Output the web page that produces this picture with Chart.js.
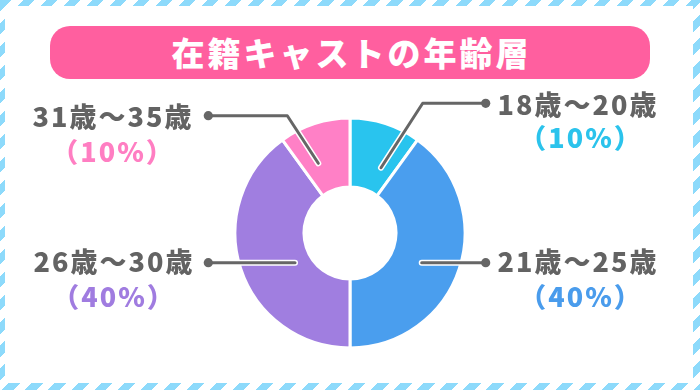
<!DOCTYPE html>
<html><head><meta charset="utf-8">
<script src="https://cdn.jsdelivr.net/npm/chart.js@4/dist/chart.umd.min.js"></script>
<style>
html,body{margin:0;padding:0;}
body{width:700px;height:390px;position:relative;overflow:hidden;background:repeating-linear-gradient(135deg,#8ddafb 0 8px,#ffffff 8px 16.3px);}
#inner{position:absolute;left:5px;top:6px;width:688px;height:377px;background:#fff;}
#title{position:absolute;left:50px;top:26px;width:600px;height:53px;border-radius:20px;background:#ff5f9f;color:#fff;font-family:"Noto Sans CJK JP";font-weight:900;font-size:33px;letter-spacing:3px;padding-left:3px;box-sizing:border-box;text-align:center;line-height:52px;}
#wrap{position:absolute;left:0;top:0;width:700px;height:390px;}
</style></head>
<body>
<div id="inner"></div>
<div id="title">在籍キャストの年齢層</div>
<div id="wrap"><canvas id="c" width="700" height="390"></canvas></div>
<script>
// ---- data ----
const categories = ['18歳～20歳', '21歳～25歳', '26歳～30歳', '31歳～35歳'];
const shares = [10, 40, 40, 10];
const shareLabels = ['（10%）', '（40%）', '（40%）', '（10%）'];
const sliceColors = ['#29c4ee', '#4a9eee', '#a07ee0', '#ff80c6'];
const pctColors = ['#2bc3ec', '#4a9cec', '#a07ce0', '#ff7ec2'];

// ---- layout of leaders / labels (offsets from doughnut centre, label centres) ----
const leaderLayout = [
  {pts: [[31, -65.3], [72.7, -129.7], [135.7, -129.7]], label: [577, 105], pct: [580, 138]},
  {pts: [[71.7, 29.7], [135.7, 29.7]], label: [577, 262], pct: [580, 297]},
  {pts: [[-55, 29.7], [-141.7, 29.7]], label: [113, 262], pct: [113, 297]},
  {pts: [[-31.7, -69.7], [-62.7, -117.3], [-141.7, -117.3]], label: [112, 117], pct: [112, 152]}
];

const leaderPlugin = {
  id: 'leaders',
  afterDatasetsDraw(chart) {
    const ctx = chart.ctx;
    const meta = chart.getDatasetMeta(0);
    meta.data.forEach((arc, i) => {
      const L = leaderLayout[i];
      const pts = L.pts.map(p => [arc.x + p[0], arc.y + p[1]]);
      ctx.save();
      ctx.lineCap = 'round';
      ctx.lineJoin = 'round';
      ctx.beginPath();
      pts.forEach((p, k) => k ? ctx.lineTo(p[0], p[1]) : ctx.moveTo(p[0], p[1]));
      ctx.strokeStyle = '#ffffff';
      ctx.lineWidth = 6;
      ctx.stroke();
      ctx.beginPath();
      pts.forEach((p, k) => k ? ctx.lineTo(p[0], p[1]) : ctx.moveTo(p[0], p[1]));
      ctx.strokeStyle = '#666666';
      ctx.lineWidth = 3;
      ctx.stroke();
      const e = pts[pts.length - 1];
      ctx.beginPath();
      ctx.arc(e[0], e[1], 4.6, 0, Math.PI * 2);
      ctx.fillStyle = '#666666';
      ctx.fill();
      ctx.font = '900 27px "Noto Sans CJK JP"';
      if ('letterSpacing' in ctx) ctx.letterSpacing = '2px';
      ctx.textAlign = 'center';
      ctx.textBaseline = 'middle';
      ctx.fillStyle = '#636363';
      ctx.fillText(categories[i], L.label[0] + 1, L.label[1]);
      ctx.fillStyle = pctColors[i];
      ctx.fillText(shareLabels[i], L.pct[0] + 1, L.pct[1]);
      ctx.restore();
    });
  }
};

new Chart(document.getElementById('c'), {
  type: 'doughnut',
  data: {
    labels: categories,
    datasets: [{
      data: shares,
      backgroundColor: sliceColors,
      borderColor: '#ffffff',
      borderWidth: 3,
      hoverOffset: 0
    }]
  },
  options: {
    responsive: false,
    animation: false,
    events: [],
    radius: 115,
    cutout: '40%',
    layout: {padding: {top: 76, bottom: 0, left: 0, right: 0}},
    plugins: {legend: {display: false}, tooltip: {enabled: false}, title: {display: false}}
  },
  plugins: [leaderPlugin]
});
</script>
</body></html>
